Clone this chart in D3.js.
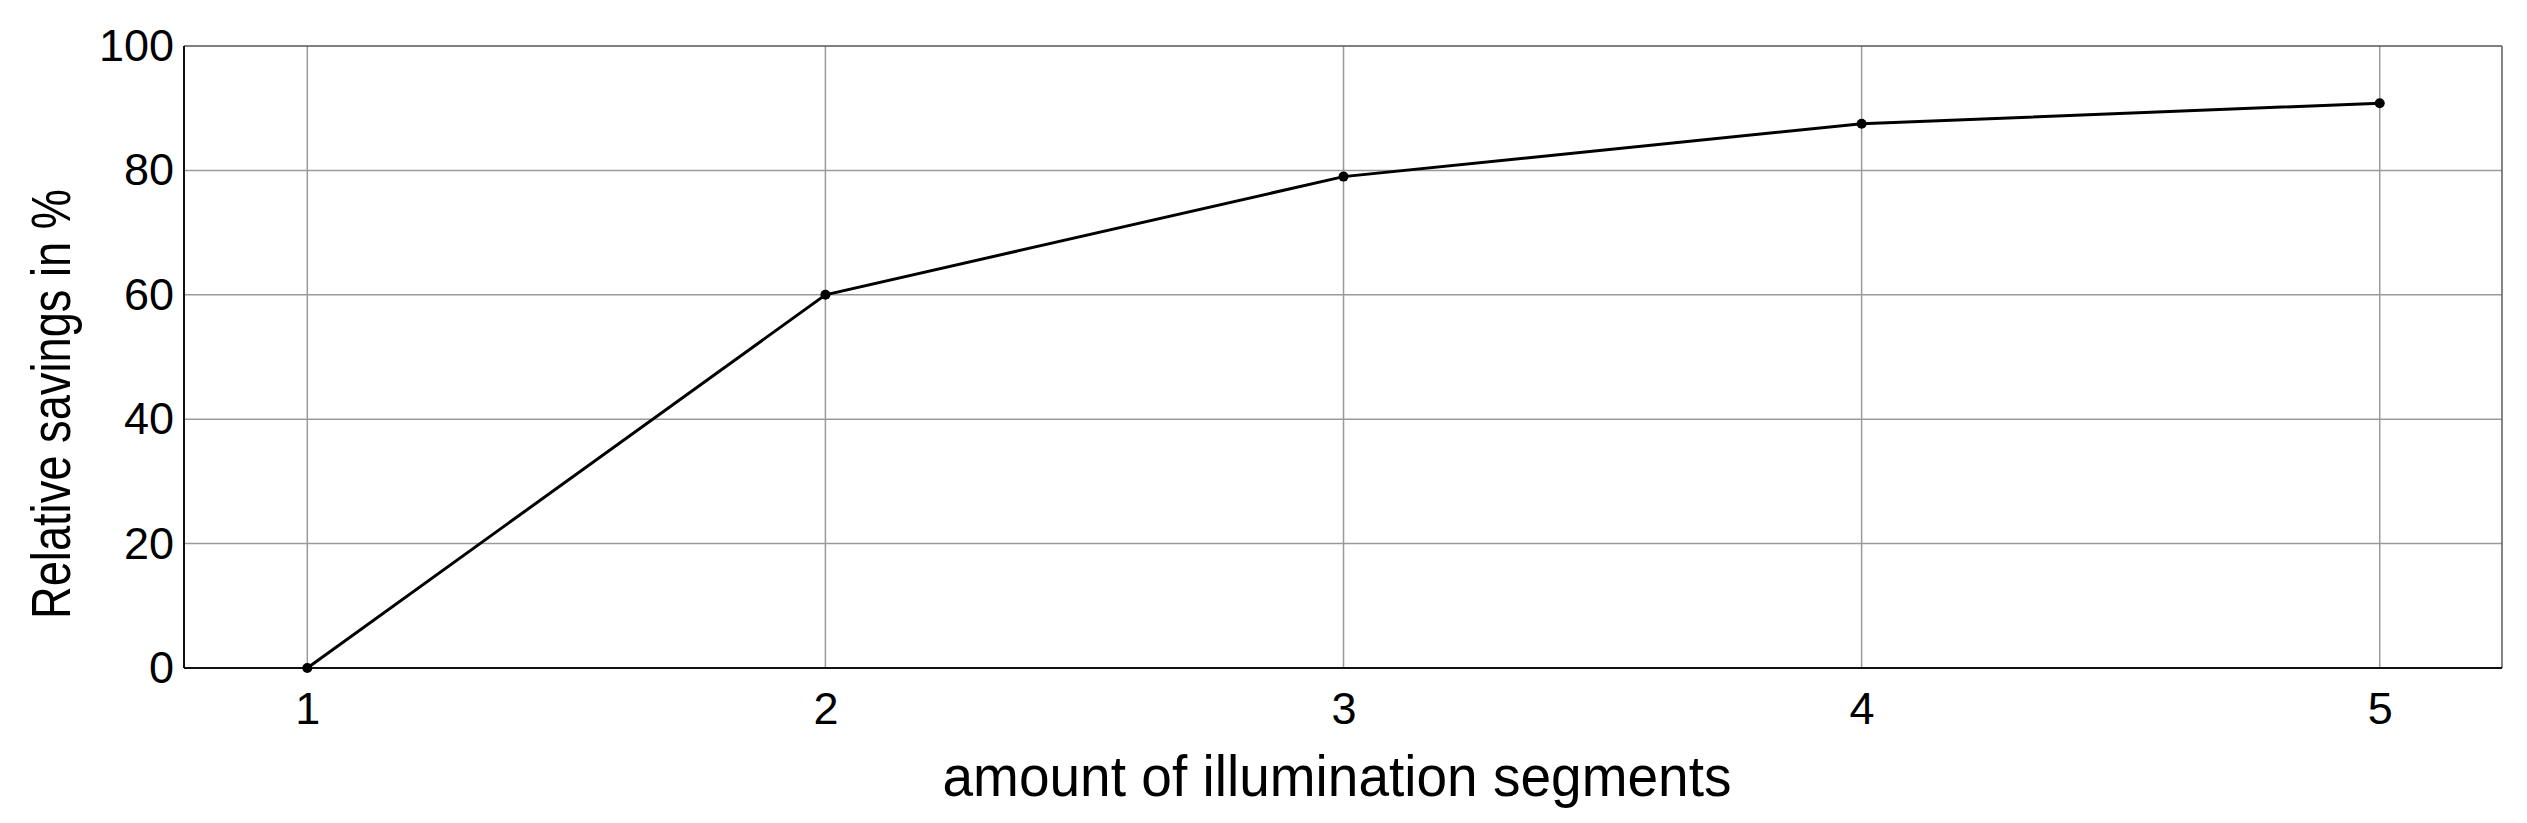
<!DOCTYPE html>
<html><head><meta charset="utf-8">
<script src="https://cdn.jsdelivr.net/npm/d3@7"></script>
<style>body{margin:0;background:#fff}svg{display:block}text{font-family:"Liberation Sans",Arial,sans-serif;fill:#000}</style>
</head><body>
<svg id="c" width="2527" height="823"></svg>
<script>
const segments = [1, 2, 3, 4, 5];
const savings = [0, 60, 79, 87.5, 90.8];
const yTicks = [0, 20, 40, 60, 80, 100];
const xLabel = "amount of illumination segments";
const yLabel = "Relative savings in %";

const W = 2527, H = 823;
const m = {left: 184, right: W - 2502, top: 46, bottom: H - 668};
const svg = d3.select("#c");
const x = d3.scaleLinear().domain([0.762, 5.236]).range([m.left, W - m.right]);
const y = d3.scaleLinear().domain([0, 100]).range([H - m.bottom, m.top]);

const g = svg.append("g");
// gridlines
g.selectAll("line.gx").data(segments).join("line")
  .attr("x1", d => x(d)).attr("x2", d => x(d))
  .attr("y1", y(0)).attr("y2", y(100))
  .attr("stroke", "#9a9a9a").attr("stroke-width", 1.5);
g.selectAll("line.gy").data(yTicks.filter(d => d > 0 && d < 100)).join("line")
  .attr("x1", x.range()[0]).attr("x2", x.range()[1])
  .attr("y1", d => y(d)).attr("y2", d => y(d))
  .attr("stroke", "#9a9a9a").attr("stroke-width", 1.5);

// frame
g.append("line").attr("x1", x.range()[0]).attr("x2", x.range()[1]).attr("y1", y(100)).attr("y2", y(100)).attr("stroke", "#555").attr("stroke-width", 1.6);
g.append("line").attr("x1", x.range()[1]).attr("x2", x.range()[1]).attr("y1", y(100)).attr("y2", y(0)).attr("stroke", "#666").attr("stroke-width", 1.6);

// axes
const xAxis = d3.axisBottom(x).tickValues(segments).tickSize(0).tickPadding(24).tickFormat(d3.format("d"));
const yAxis = d3.axisLeft(y).tickValues(yTicks).tickSize(0).tickPadding(10);
const gx = svg.append("g").attr("transform", `translate(0,${y(0)})`).call(xAxis);
const gy = svg.append("g").attr("transform", `translate(${x.range()[0]},0)`).call(yAxis);
[gx, gy].forEach(a => {
  a.select(".domain").attr("stroke", "#111").attr("stroke-width", 2);
  a.selectAll("text").attr("font-size", 45).attr("font-family", "Liberation Sans, Arial, sans-serif").attr("fill", "#000");
});
gx.select(".domain").attr("d", `M${x.range()[0]},0H${x.range()[1]}`);
gy.select(".domain").attr("d", `M0,${y(0)}V${y(100)}`);

// line
svg.append("path").datum(segments.map((s, i) => [s, savings[i]]))
  .attr("d", d3.line().x(d => x(d[0])).y(d => y(d[1])))
  .attr("fill", "none").attr("stroke", "#000").attr("stroke-width", 3);
svg.selectAll("circle.pt").data(segments).join("circle")
  .attr("cx", d => x(d)).attr("cy", (d, i) => y(savings[i])).attr("r", 5).attr("fill", "#000");

// titles
svg.append("text").attr("x", 1337).attr("y", 796)
  .attr("text-anchor", "middle").attr("font-size", 57)
  .attr("textLength", 789).attr("lengthAdjust", "spacingAndGlyphs").text(xLabel);
svg.append("text").attr("transform", `translate(70,404) rotate(-90)`)
  .attr("text-anchor", "middle").attr("font-size", 56)
  .attr("textLength", 430).attr("lengthAdjust", "spacingAndGlyphs").text(yLabel);
</script>
</body></html>
